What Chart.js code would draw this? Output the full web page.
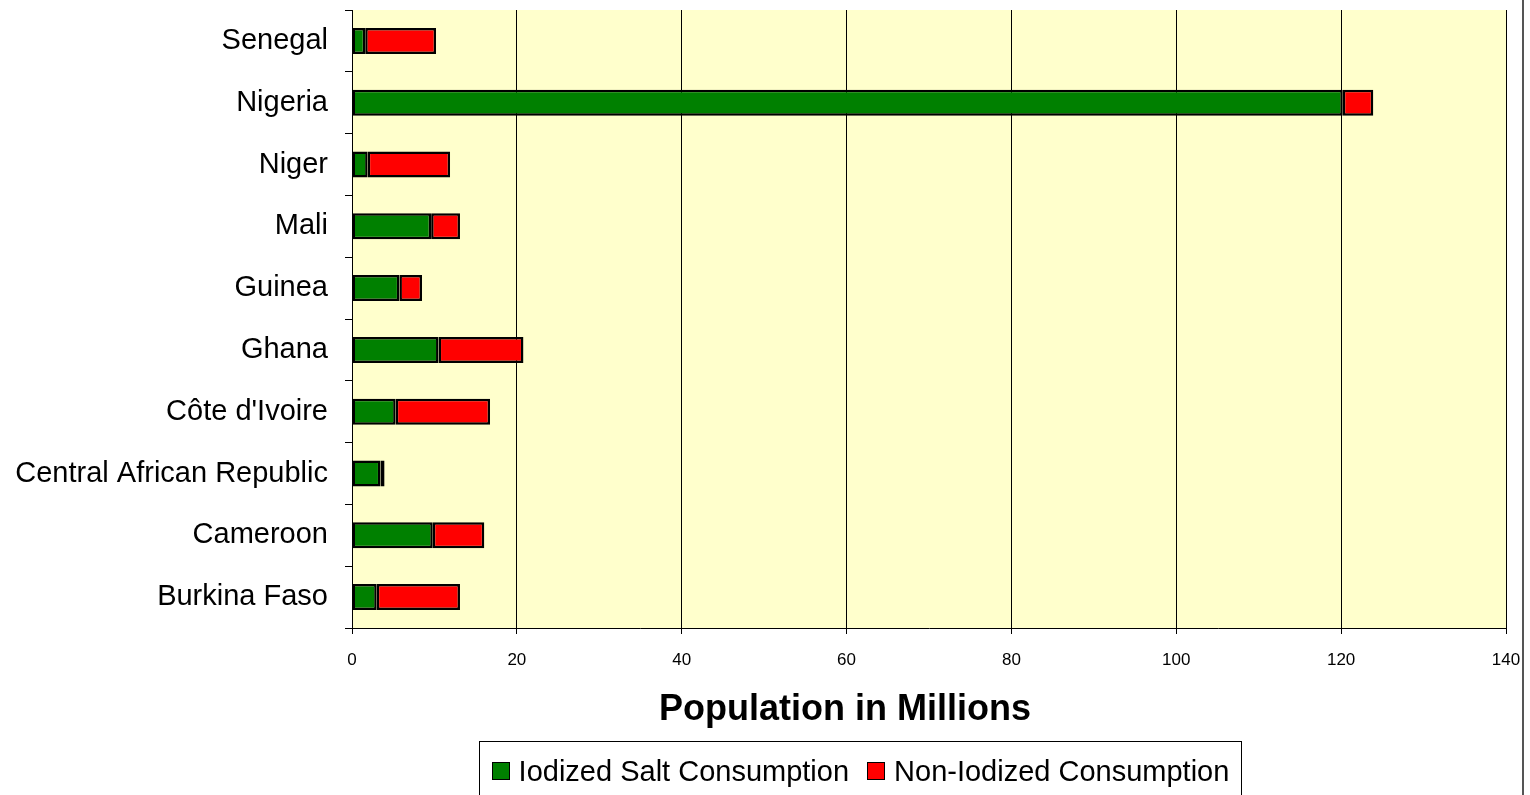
<!DOCTYPE html>
<html>
<head>
<meta charset="utf-8">
<script src="https://cdn.jsdelivr.net/npm/chart.js@4"></script>
<style>
  html, body { margin: 0; padding: 0; background: #fff; }
  .wrap { position: relative; width: 1530px; height: 795px; font-family: "Liberation Sans", Arial, sans-serif; }
  .edge { position: absolute; left: 1522px; top: 0; width: 2px; height: 795px; background: #555; }
  .axis-title { position: absolute; left: 0; width: 1690px; top: 687px; text-align: center; font-weight: bold; font-size: 36px; color: #000; }
  .legend { position: absolute; left: 479px; top: 741px; width: 763px; height: 60px; border: 1px solid #000; box-sizing: border-box; display: flex; align-items: center; justify-content: center; gap: 18px; font-size: 29px; }
  .legend span { display: inline-flex; align-items: center; }
  .legend i { display: inline-block; width: 16px; height: 16px; border: 1px solid #000; margin-right: 9px; }
</style>
</head>
<body>
<div class="wrap">
  <canvas id="saltChart" width="1530" height="795"></canvas>
  <div class="edge"></div>
  <div class="axis-title">Population in Millions</div>
  <div class="legend">
    <span><i style="background:#008000"></i>Iodized Salt Consumption</span>
    <span><i style="background:#ff0000"></i>Non-Iodized Consumption</span>
  </div>
</div>
<script>
const countries = ['Senegal', 'Nigeria', 'Niger', 'Mali', 'Guinea', 'Ghana', "Côte d'Ivoire", 'Central African Republic', 'Cameroon', 'Burkina Faso'];
const iodized = [1.6, 120.2, 1.9, 9.6, 5.75, 10.5, 5.3, 3.45, 9.8, 3.0];
const nonIodized = [8.6, 3.7, 10.0, 3.5, 2.75, 10.3, 11.45, 0.5, 6.25, 10.1];
const xTicks = [0, 20, 40, 60, 80, 100, 120, 140];

const plotBg = {
  id: 'plotBg',
  beforeDraw(chart) {
    const { ctx, chartArea: a } = chart;
    ctx.save();
    ctx.fillStyle = '#ffffcc';
    ctx.fillRect(a.left, a.top, a.right - a.left, a.bottom - a.top);
    ctx.restore();
  }
};

new Chart(document.getElementById('saltChart'), {
  type: 'bar',
  plugins: [plotBg],
  data: {
    labels: countries,
    datasets: [
      { label: 'Iodized Salt Consumption', data: iodized, backgroundColor: '#008000', borderColor: '#000', borderWidth: 2.5, borderSkipped: false },
      { label: 'Non-Iodized Consumption', data: nonIodized, backgroundColor: '#ff0000', borderColor: '#000', borderWidth: 2.5, borderSkipped: false }
    ]
  },
  options: {
    indexAxis: 'y',
    responsive: false,
    animation: false,
    layout: { padding: { top: 10, right: 24, left: 0, bottom: 0 } },
    datasets: { bar: { categoryPercentage: 1, barPercentage: 0.42 } },
    plugins: { legend: { display: false }, tooltip: { enabled: false } },
    scales: {
      x: {
        stacked: true,
        min: 0,
        max: 140,
        afterBuildTicks: (s) => { s.ticks = xTicks.map((v) => ({ value: v })); },
        afterFit: (s) => { s.height = 167; s.paddingLeft = 0; s.paddingRight = 0; },
        grid: { color: '#000', lineWidth: 1, tickLength: 6 },
        border: { color: '#000', width: 1 },
        ticks: { color: '#000', padding: 16, font: { family: 'Liberation Sans', size: 17 } }
      },
      y: {
        stacked: true,
        afterFit: (s) => { s.width = 352; s.paddingTop = 0; s.paddingBottom = 0; },
        grid: { drawOnChartArea: false, color: '#000', tickLength: 7, offset: true },
        border: { color: '#000', width: 1 },
        ticks: { color: '#000', padding: 17, font: { family: 'Liberation Sans', size: 29 } }
      }
    }
  }
});
</script>
</body>
</html>
